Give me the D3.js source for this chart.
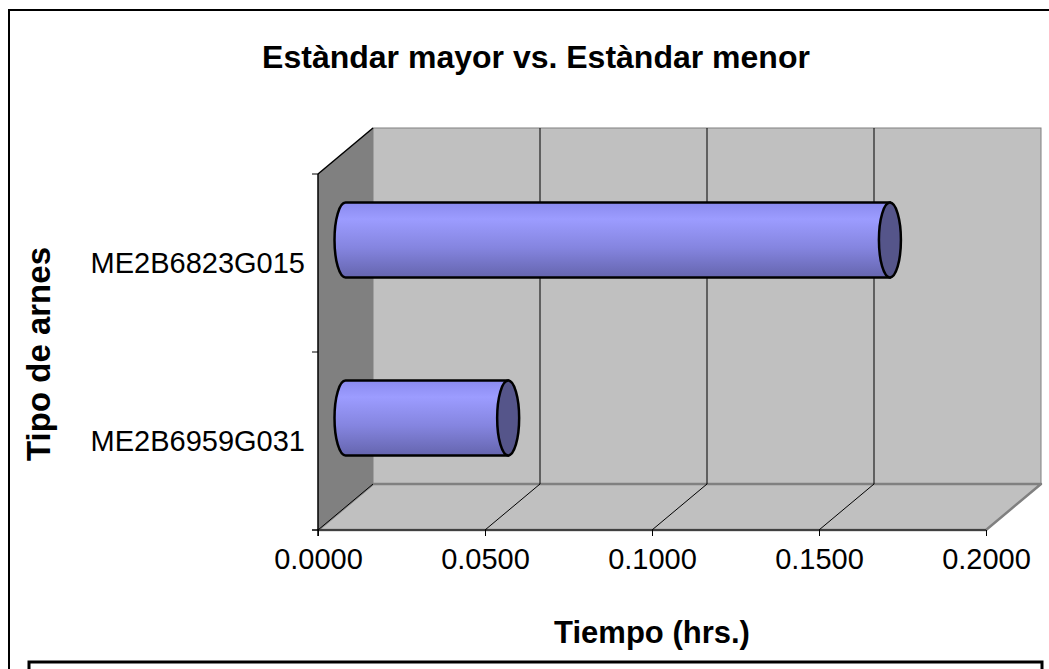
<!DOCTYPE html>
<html>
<head>
<meta charset="utf-8">
<script src="https://cdn.jsdelivr.net/npm/d3@7"></script>
<style>
  body { margin: 0; background: #fff; }
  svg { display: block; font-family: "Liberation Sans", Arial, sans-serif; }
</style>
</head>
<body>
<svg id="chart" width="1049" height="669"></svg>
<script>
// data
var categories = ["ME2B6823G015", "ME2B6959G031"];
var tiempos = [0.163, 0.0487];
var xTicks = [0, 0.05, 0.1, 0.15, 0.2];
var chartTitle = "Estàndar mayor vs. Estàndar menor";
var xTitle = "Tiempo (hrs.)";
var yTitle = "Tipo de arnes";

var svg = d3.select("#chart");

// depth offset of the 3d box
var dx = 55, dy = -46;

var x = d3.scaleLinear().domain([0, 0.2]).range([318, 986]);
var y = d3.scaleBand().domain(categories).range([174, 530]);

var x0 = x(0), x1 = x(0.2), yTop = 174, yBot = 530;

// outer frame
svg.append("path")
    .attr("d", "M9,669 L9,10 L1049,10")
    .attr("fill", "none").attr("stroke", "#000").attr("stroke-width", 2);

// box under the chart
svg.append("rect")
    .attr("x", 29).attr("y", 662).attr("width", 1013).attr("height", 20)
    .attr("fill", "#fff").attr("stroke", "#000").attr("stroke-width", 3);

var defs = svg.append("defs");
var grad = defs.append("linearGradient").attr("id", "cyl")
    .attr("x1", 0).attr("y1", 0).attr("x2", 0).attr("y2", 1);
grad.append("stop").attr("offset", "0%").attr("stop-color", "#8a8aee");
grad.append("stop").attr("offset", "22%").attr("stop-color", "#9c9cff");
grad.append("stop").attr("offset", "60%").attr("stop-color", "#8585e0");
grad.append("stop").attr("offset", "100%").attr("stop-color", "#6565ae");

// back wall
svg.append("rect")
    .attr("x", x0 + dx).attr("y", yTop + dy)
    .attr("width", x1 - x0).attr("height", yBot - yTop)
    .attr("fill", "#c0c0c0").attr("stroke", "#808080").attr("stroke-width", 1);

// side wall
svg.append("path")
    .attr("d", "M" + x0 + "," + yTop + " L" + (x0 + dx) + "," + (yTop + dy) +
        " L" + (x0 + dx) + "," + (yBot + dy) + " L" + x0 + "," + yBot + " Z")
    .attr("fill", "#808080");
svg.append("line")
    .attr("x1", x0).attr("y1", yTop).attr("x2", x0 + dx).attr("y2", yTop + dy)
    .attr("stroke", "#000").attr("stroke-width", 1.5);

// floor
svg.append("path")
    .attr("d", "M" + x0 + "," + yBot + " L" + (x0 + dx) + "," + (yBot + dy) +
        " L" + (x1 + dx) + "," + (yBot + dy) + " L" + x1 + "," + yBot + " Z")
    .attr("fill", "#c0c0c0").attr("stroke", "#808080").attr("stroke-width", 2.5)
    .attr("stroke-linejoin", "round");

// grid lines on back wall and floor
var inner = xTicks.slice(1, -1);
svg.selectAll(".grid").data(inner).enter().append("line")
    .attr("class", "grid")
    .attr("x1", function (d) { return x(d) + dx; })
    .attr("x2", function (d) { return x(d) + dx; })
    .attr("y1", yTop + dy).attr("y2", yBot + dy)
    .attr("stroke", "#000").attr("stroke-width", 1);
svg.selectAll(".floorgrid").data(xTicks.slice(0, -1)).enter().append("line")
    .attr("class", "floorgrid")
    .attr("x1", function (d) { return x(d); })
    .attr("y1", yBot)
    .attr("x2", function (d) { return x(d) + dx; })
    .attr("y2", yBot + dy)
    .attr("stroke", "#000").attr("stroke-width", 1);

// axes
var xAxis = svg.append("g").attr("transform", "translate(0," + yBot + ")")
    .call(d3.axisBottom(x).tickValues(xTicks).tickSize(6).tickPadding(12)
        .tickFormat(d3.format(".4f")));
xAxis.select(".domain").attr("d", "M" + (x0 - 6) + ",0H" + x1).attr("stroke", "#000");
xAxis.selectAll("text").attr("font-size", 29).attr("fill", "#000")
    .attr("font-family", "Liberation Sans, Arial, sans-serif");

var yEdges = [yTop, yTop + y.step(), yBot];
svg.append("line").attr("x1", x0).attr("x2", x0).attr("y1", yTop).attr("y2", yBot + 6)
    .attr("stroke", "#000").attr("stroke-width", 1.5);
svg.selectAll(".ytick").data(yEdges).enter().append("line")
    .attr("x1", x0 - 6).attr("x2", x0)
    .attr("y1", function (d) { return d; }).attr("y2", function (d) { return d; })
    .attr("stroke", "#000");
svg.selectAll(".ylab").data(categories).enter().append("text")
    .attr("x", x0 - 13)
    .attr("y", function (d) { return y(d) + y.bandwidth() / 2; })
    .attr("dy", "0.35em")
    .attr("text-anchor", "end")
    .attr("font-size", 29)
    .text(function (d) { return d; });

// cylinders, sitting at half depth
var bh = y.bandwidth() * 0.42, rx = 11;
var bars = svg.selectAll(".bar").data(categories).enter().append("g").attr("class", "bar");
bars.append("path")
    .attr("d", function (d, i) {
        var cy = y(d) + y.bandwidth() / 2 + dy / 2;
        var l = x(0) + dx / 2, r = x(tiempos[i]) + dx / 2;
        var t = cy - bh / 2, b = cy + bh / 2;
        return "M" + r + "," + t + " L" + l + "," + t +
            " A" + rx + "," + (bh / 2) + " 0 0 0 " + l + "," + b +
            " L" + r + "," + b + " Z";
    })
    .attr("fill", "url(#cyl)").attr("stroke", "#000").attr("stroke-width", 2.5);
bars.append("ellipse")
    .attr("cx", function (d, i) { return x(tiempos[i]) + dx / 2; })
    .attr("cy", function (d) { return y(d) + y.bandwidth() / 2 + dy / 2; })
    .attr("rx", rx).attr("ry", bh / 2)
    .attr("fill", "#55558a").attr("stroke", "#000").attr("stroke-width", 2.5);

// titles
svg.append("text").attr("x", 536).attr("y", 68).attr("text-anchor", "middle")
    .attr("font-size", 32).attr("font-weight", "bold").text(chartTitle);
svg.append("text").attr("x", 652).attr("y", 643).attr("text-anchor", "middle")
    .attr("font-size", 31).attr("font-weight", "bold").text(xTitle);
svg.append("text").attr("transform", "translate(50,354) rotate(-90)")
    .attr("text-anchor", "middle")
    .attr("font-size", 33).attr("font-weight", "bold").text(yTitle);
</script>
</body>
</html>
